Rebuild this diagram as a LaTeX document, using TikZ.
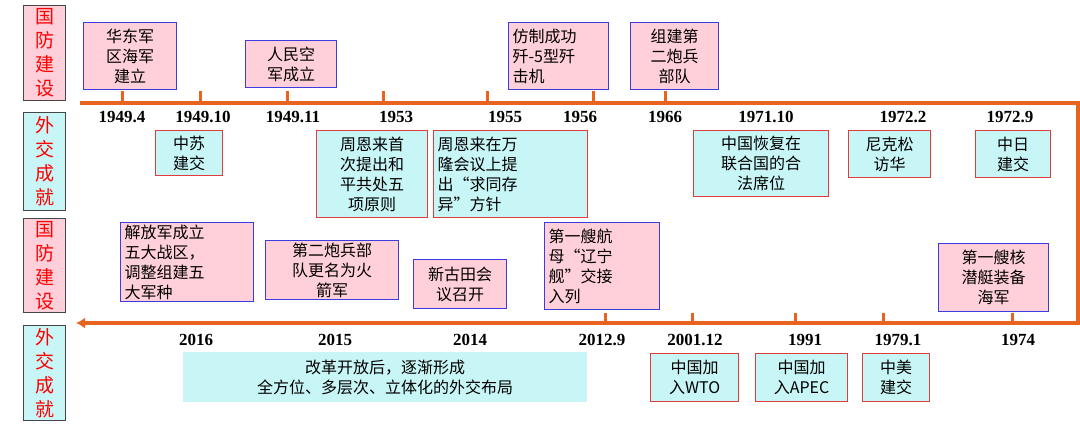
\documentclass[tikz,border=0pt]{standalone}
\usepackage{fontspec}
\usetikzlibrary{arrows.meta}
\setmainfont{Liberation Serif}
\newfontfamily\cjk{Noto Sans CJK SC}
\definecolor{pinkf}{RGB}{255,208,218}
\definecolor{cyanf}{RGB}{200,245,245}
\definecolor{blueb}{RGB}{60,60,225}
\definecolor{redb}{RGB}{225,60,60}
\definecolor{orng}{RGB}{232,100,30}
\definecolor{grayb}{RGB}{70,70,70}
\tikzset{
 base/.style={anchor=north west, inner sep=2pt, align=center, font=\cjk\fontsize{16}{20}\selectfont, line width=1.2pt},
 pbox/.style={base, fill=pinkf, draw=blueb},
 cbox/.style={base, fill=cyanf, draw=redb},
 side/.style={anchor=north west, line width=1.2pt, draw=grayb, text=red, align=center, font=\cjk\fontsize{19}{24}\selectfont, minimum width=42pt, inner sep=0pt},
 yr/.style={font=\bfseries\fontsize{17}{20}\selectfont},
 tl/.style={draw=orng, line width=4pt},
 tk/.style={draw=orng, line width=3pt}
}
\newcommand{\bx}[6]{\node[#1, minimum width=#4pt, minimum height=#5pt, text width=#4pt-8pt] (#6) at (#2,#3)}
\begin{document}
\begin{tikzpicture}[x=1pt,y=-1pt]
\useasboundingbox (0,0) rectangle (1080,424);
% side labels
\node[side, fill=pinkf, minimum height=95pt] (s1) at (23,5) {国\\防\\建\\设};
\node[side, fill=cyanf, minimum height=98pt] (s2) at (23,112) {外\\交\\成\\就};
\node[side, fill=pinkf, minimum height=94pt] (s3) at (23,218) {国\\防\\建\\设};
\node[side, fill=cyanf, minimum height=95pt] (s4) at (23,325) {外\\交\\成\\就};
% timeline
\coordinate (a) at (80,103);
\coordinate (b) at (1078,103);
\coordinate (c) at (1078,323);
\coordinate (d) at (76,323);
\draw[tl, line join=miter, -{Latex[length=9pt,width=11pt]}] (a) -- (b) -- (c) -- (d);
\foreach \x in {122,200,287,383,487,593,665} \draw[tk] (\x,91) -- (\x,103);
\foreach \x in {605,692,795,883,1012} \draw[tk] (\x,313) -- (\x,323);
% top years
\foreach \x/\t in {122/1949.4,203/1949.10,293/1949.11,396/1953,505/1955,580/1956,665/1966,766/1971.10,903/1972.2,1010/1972.9}
  \node[yr] at (\x,117) {\t};
\foreach \x/\t in {196/2016,335/2015,470/2014,602/2012.9,695/2001.12,805/1991,898/1979.1,1018/1974}
  \node[yr] at (\x,340) {\t};
% row 1
\bx{pbox}{83}{22}{93}{67}{n1} {华东军\\区海军\\建立};
\bx{pbox}{245}{40}{91}{47}{n2} {人民空\\军成立};
\bx{pbox, align=left}{508}{22}{100}{67}{n3} {仿制成功\\歼-5型歼\\击机};
\bx{pbox}{630}{22}{88}{67}{n4} {组建第\\二炮兵\\部队};
% row 2
\bx{cbox}{155}{130}{67}{45}{m1} {中苏\\建交};
\bx{cbox}{316}{130}{111}{87}{m2} {周恩来首\\次提出和\\平共处五\\项原则};
\bx{cbox, align=left}{433}{130}{154}{87}{m3} {周恩来在万\\隆会议上提\\出“求同存\\异”方针};
\bx{cbox}{693}{130}{135}{66}{m4} {中国恢复在\\联合国的合\\法席位};
\bx{cbox}{848}{130}{82}{47}{m5} {尼克松\\访华};
\bx{cbox}{975}{130}{75}{47}{m6} {中日\\建交};
% row 3
\bx{pbox, align=left}{120}{222}{133}{60}{k1} {解放军成立\\五大战区，\\调整组建五\\大军种};
\bx{pbox}{265}{240}{133}{50}{k2} {第二炮兵部\\队更名为火\\箭军};
\bx{pbox}{413}{259}{93}{49}{k3} {新古田会\\议召开};
\bx{pbox, align=left}{544}{222}{115}{87}{k4} {第一艘航\\母“辽宁\\舰”交接\\入列};
\bx{pbox}{938}{243}{110}{68}{k5} {第一艘核\\潜艇装备\\海军};
% row 4
\node[base, fill=cyanf, minimum width=404pt, minimum height=50pt, line width=0pt] (r0) at (183,352) {改革开放后，逐渐形成\\全方位、多层次、立体化的外交布局};
\bx{cbox}{650}{353}{88}{48}{r1} {中国加\\入WTO};
\bx{cbox}{755}{353}{92}{48}{r2} {中国加\\入APEC};
\bx{cbox}{862}{353}{67}{48}{r3} {中美\\建交};
\end{tikzpicture}
\end{document}
